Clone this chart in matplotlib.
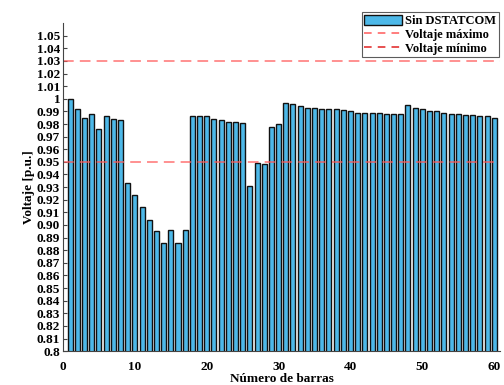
import numpy as np
import matplotlib
matplotlib.use("Agg")
import matplotlib.pyplot as plt
from matplotlib.patches import Patch
from matplotlib.lines import Line2D

# bus voltages without DSTATCOM (p.u.)
buses = np.arange(1, 61)
voltages = [
    1.000, 0.992, 0.985, 0.988, 0.976, 0.986, 0.984, 0.983, 0.933, 0.924,
    0.914, 0.904, 0.895, 0.886, 0.896, 0.886, 0.896, 0.986, 0.986, 0.986,
    0.984, 0.983, 0.982, 0.982, 0.981, 0.931, 0.949, 0.948, 0.978, 0.980,
    0.997, 0.996, 0.994, 0.993, 0.993, 0.992, 0.992, 0.992, 0.991, 0.990,
    0.989, 0.989, 0.989, 0.989, 0.988, 0.988, 0.988, 0.995, 0.993, 0.992,
    0.990, 0.990, 0.989, 0.988, 0.988, 0.987, 0.987, 0.986, 0.986, 0.985,
]
v_max = 1.03
v_min = 0.95

yticks = np.round(np.arange(0.80, 1.0501, 0.01), 2)
ytick_labels = []
for t in yticks:
    if t == 0.8:
        ytick_labels.append("0.8")
    elif t == 1.0:
        ytick_labels.append("1")
    else:
        ytick_labels.append(f"{t:.2f}")
xticks = [0, 10, 20, 30, 40, 50, 60]

plt.rcParams['font.family'] = ['Liberation Serif', 'DejaVu Serif']
plt.rcParams['font.weight'] = 'bold'

fig = plt.figure(figsize=(5.04, 3.85), dpi=100)
ax = fig.add_axes([0.125, 0.088, 0.867, 0.852])

bar_color = "#4db8e8"
line_color = "#ff5a5a"

ax.bar(buses, voltages, width=0.7, color=bar_color, edgecolor="#111111", linewidth=1.0)
ax.axhline(v_max, color=line_color, linestyle=(0, (7, 4)), linewidth=1.1, alpha=0.85)
ax.axhline(v_min, color=line_color, linestyle=(0, (7, 4)), linewidth=1.1, alpha=0.85)

ax.set_xlim(0, 60.8)
ax.set_ylim(0.8, 1.06)
ax.set_yticks(yticks)
ax.set_yticklabels(ytick_labels)
ax.set_xticks(xticks)

ax.spines['top'].set_visible(False)
ax.spines['right'].set_visible(False)
ax.spines['left'].set_color("#444444")
ax.spines['bottom'].set_color("#444444")
ax.tick_params(axis='y', direction='in', length=3, color="#444444", labelsize=9.5, pad=2)
ax.tick_params(axis='x', direction='in', length=0, labelsize=9.5, pad=7)
for lbl in ax.get_xticklabels() + ax.get_yticklabels():
    lbl.set_fontweight('bold')

ax.set_xlabel("Número de barras", fontsize=9.5, fontweight='bold', labelpad=0)
ax.set_ylabel("Voltaje [p.u.]", fontsize=9.5, fontweight='bold', labelpad=1)

handles = [
    Patch(facecolor=bar_color, edgecolor="#111111", linewidth=1.0),
    Line2D([0], [0], color=line_color, linestyle=(0, (5, 4)), linewidth=1.1),
    Line2D([0], [0], color="#e02020", linestyle=(0, (5, 4)), linewidth=1.1),
]
leg = fig.legend(handles, ["Sin DSTATCOM", "Voltaje máximo", "Voltaje mínimo"],
                 loc='upper right', bbox_to_anchor=(0.99, 0.968),
                 fontsize=9, frameon=True, fancybox=False,
                 handlelength=3.0, handleheight=0.9, handletextpad=0.3,
                 borderpad=0.2, labelspacing=0.1, borderaxespad=0)
leg.get_frame().set_edgecolor("#333333")
leg.get_frame().set_linewidth(0.8)
for t in leg.get_texts():
    t.set_fontweight('bold')

fig.savefig("out.png", dpi=100)
